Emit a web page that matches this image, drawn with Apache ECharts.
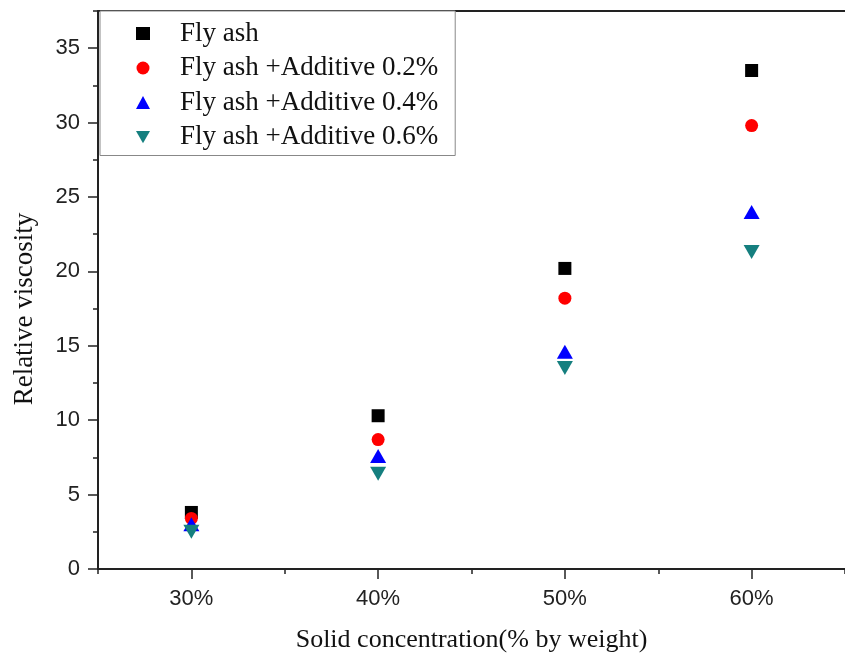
<!DOCTYPE html>
<html>
<head>
<meta charset="utf-8">
<script src="https://cdn.jsdelivr.net/npm/echarts@6/dist/echarts.min.js"></script>
<style>
  html, body { margin: 0; padding: 0; background: #fff; }
  #main { width: 845px; height: 658px; }
</style>
</head>
<body>
<div id="main"></div>
<script>
const concentration = [30, 40, 50, 60]
const flyAsh = [3.8, 10.3, 20.2, 33.5]
const additive02 = [3.4, 8.7, 18.2, 29.8]
const additive04 = [3.0, 7.6, 14.6, 24.0]
const additive06 = [2.5, 6.4, 13.5, 21.3]
const seriesNames = ['Fly ash', 'Fly ash +Additive 0.2%', 'Fly ash +Additive 0.4%', 'Fly ash +Additive 0.6%']

const xMajorTicks = [30, 40, 50, 60]
const xMinorTicks = [25, 35, 45, 55, 65]
const yMajorTicks = [0, 5, 10, 15, 20, 25, 30, 35]
const yMinorTicks = [2.5, 7.5, 12.5, 17.5, 22.5, 27.5, 32.5, 37.5]

const axisColor = '#222'
const sansFont = 'Liberation Sans'
const serifFont = 'Liberation Serif'
// upside-down triangle for the 0.6% series
const downTriangle = 'path://M0,0L16,0L8,14Z'

const toPoints = (ys) => concentration.map((x, i) => [x, ys[i]])

const chart = echarts.init(document.getElementById('main'), null, { renderer: 'canvas' })

const baseX = {
  type: 'value',
  min: 25,
  max: 65,
  position: 'bottom',
  splitLine: { show: false },
}
const baseY = {
  type: 'value',
  min: 0,
  max: 37.5,
  position: 'left',
  splitLine: { show: false },
}

const option = {
  animation: false,
  backgroundColor: '#fff',
  grid: { left: 98, right: -6, top: 11, bottom: 87 },
  xAxis: [{
    ...baseX,
    name: 'Solid concentration(% by weight)',
    nameLocation: 'middle',
    nameGap: 58,
    nameTextStyle: { fontFamily: serifFont, fontSize: 26, color: '#111' },
    axisLine: { lineStyle: { color: axisColor, width: 2 } },
    axisTick: { customValues: xMajorTicks, length: 10, lineStyle: { color: axisColor, width: 1.5 } },
    axisLabel: {
      customValues: xMajorTicks,
      formatter: '{value}%',
      margin: 19,
      fontFamily: sansFont,
      fontSize: 22,
      color: axisColor,
    },
  }, {
    ...baseX,
    axisLine: { show: false },
    axisTick: { customValues: xMinorTicks, length: 5, lineStyle: { color: axisColor, width: 1.5 } },
    axisLabel: { show: false },
  }, {
    ...baseX,
    position: 'top',
    axisLine: { lineStyle: { color: axisColor, width: 2 } },
    axisTick: { show: false },
    axisLabel: { show: false },
  }],
  yAxis: [{
    ...baseY,
    axisLine: { lineStyle: { color: axisColor, width: 2 } },
    axisTick: { customValues: yMajorTicks, length: 10, lineStyle: { color: axisColor, width: 1.5 } },
    axisLabel: {
      customValues: yMajorTicks,
      margin: 18,
      fontFamily: sansFont,
      fontSize: 22,
      color: axisColor,
    },
  }, {
    ...baseY,
    axisLine: { show: false },
    axisTick: { customValues: yMinorTicks, length: 5, lineStyle: { color: axisColor, width: 1.5 } },
    axisLabel: { show: false },
  }],
  legend: {
    data: seriesNames,
    orient: 'vertical',
    left: 100,
    top: 11,
    padding: [9, 17, 5, 36],
    itemWidth: 14,
    itemHeight: 13,
    itemGap: 7.5,
    symbolKeepAspect: true,
    backgroundColor: '#fff',
    borderColor: '#888',
    borderWidth: 1,
    selectedMode: false,
    textStyle: {
      fontFamily: serifFont,
      fontSize: 27,
      lineHeight: 27,
      color: '#111',
      padding: [0, 0, 0, 25],
    },
  },
  graphic: [{
    type: 'text',
    x: 25,
    y: 309,
    rotation: Math.PI / 2,
    style: {
      text: 'Relative viscosity',
      font: '27px "Liberation Serif"',
      fill: '#111',
      align: 'center',
      verticalAlign: 'middle',
    },
  }],
  series: [{
    name: seriesNames[0],
    type: 'scatter',
    symbol: 'rect',
    symbolSize: 13,
    itemStyle: { color: '#000', opacity: 1 },
    data: toPoints(flyAsh),
  }, {
    name: seriesNames[1],
    type: 'scatter',
    symbol: 'circle',
    symbolSize: 13,
    itemStyle: { color: '#ff0000', opacity: 1 },
    data: toPoints(additive02),
  }, {
    name: seriesNames[2],
    type: 'scatter',
    symbol: 'triangle',
    symbolSize: [16, 14],
    itemStyle: { color: '#0000ff', opacity: 1 },
    data: toPoints(additive04),
  }, {
    name: seriesNames[3],
    type: 'scatter',
    symbol: downTriangle,
    symbolSize: [16, 14],
    itemStyle: { color: '#157f7f', opacity: 1 },
    data: toPoints(additive06),
  }]
}

chart.setOption(option)
</script>
</body>
</html>
